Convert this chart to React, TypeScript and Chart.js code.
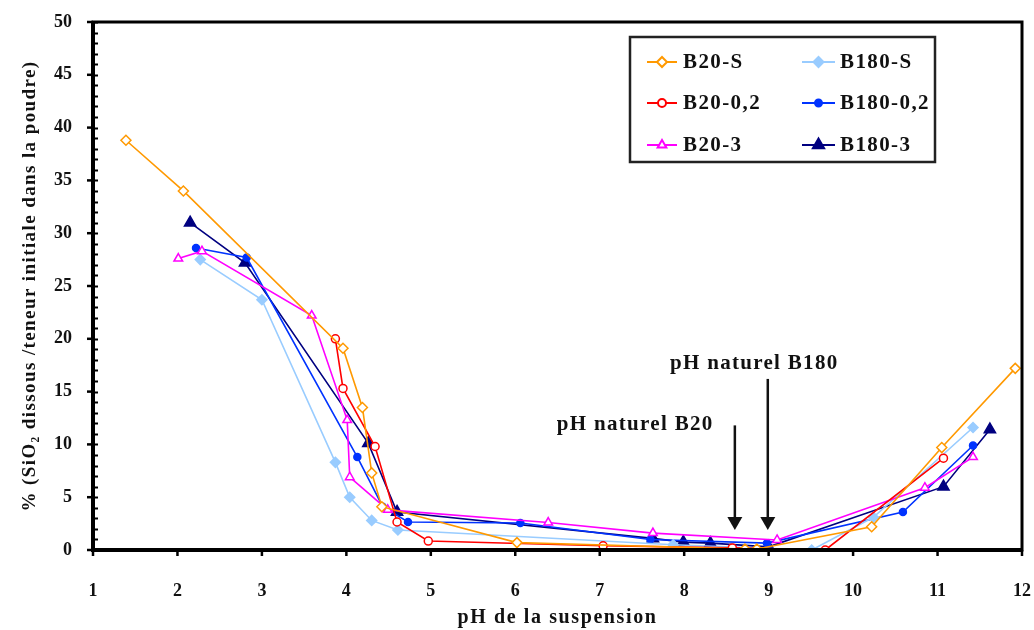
import React, { useEffect, useRef } from 'react';
import { Chart, registerables } from 'chart.js';
import { drawPoint } from 'chart.js/helpers';

Chart.register(...registerables);

// ---------- data ----------
const SERIES_NAMES = ['B20-S', 'B20-0,2', 'B20-3', 'B180-S', 'B180-0,2', 'B180-3'];

const b20S_pH = [1.39, 2.07, 3.96, 4.19, 4.30, 4.42, 6.02, 8.72, 8.86, 10.22, 11.05, 11.92];
const b20S_val = [38.8, 34.0, 19.1, 13.5, 7.3, 4.1, 0.7, 0.1, 0.1, 2.2, 9.7, 17.2];

const b20_02_pH = [3.87, 3.96, 4.34, 4.60, 4.97, 7.04, 8.57, 9.67, 11.07];
const b20_02_val = [20.0, 15.3, 9.8, 2.65, 0.85, 0.4, 0.2, 0.0, 8.7];

const b20_3_pH = [2.01, 2.29, 3.59, 4.01, 4.04, 4.49, 6.39, 7.63, 9.10, 10.85, 11.42];
const b20_3_val = [27.6, 28.3, 22.2, 12.3, 6.9, 3.8, 2.6, 1.6, 0.95, 5.9, 8.8];

const b180S_pH = [2.27, 3.0, 3.87, 4.04, 4.30, 4.61, 7.87, 9.51, 10.24, 11.42];
const b180S_val = [27.5, 23.7, 8.3, 5.0, 2.8, 1.9, 0.5, 0.0, 3.1, 11.6];

const b180_02_pH = [2.22, 2.82, 4.13, 4.43, 4.73, 6.06, 7.60, 8.98, 10.59, 11.42];
const b180_02_val = [28.6, 27.7, 8.8, 4.1, 2.65, 2.55, 1.0, 0.65, 3.6, 9.9];

const b180_3_pH = [2.15, 2.80, 4.26, 4.60, 7.63, 7.99, 8.31, 9.0, 11.07, 11.62];
const b180_3_val = [31.0, 27.2, 10.1, 3.6, 1.1, 0.75, 0.65, 0.3, 6.0, 11.4];

const X_MIN = 1, X_MAX = 12, X_STEP = 1;
const Y_MIN = 0, Y_MAX = 50, Y_STEP = 5, Y_MINOR = 1;

const ARROW_B20 = { pH: 8.6, from: 11.8, to: 1.9 };
const ARROW_B180 = { pH: 8.99, from: 16.2, to: 1.9 };
const LABEL_B20 = { text: 'pH naturel B20', pH: 7.42, y: 11.84 };
const LABEL_B180 = { text: 'pH naturel B180', pH: 8.83, y: 17.7 };

const X_TITLE = 'pH de la suspension';
const Y_TITLE = '% (SiO₂ dissous /teneur initiale dans la poudre)';

// ---------- styles ----------
const FONT = "'Liberation Serif', 'Times New Roman', serif";
const STYLES = [
  { color: '#FF9900', point: 'rectRot', radius: 5, fill: '#FFFFFF' },
  { color: '#FF0000', point: 'circle', radius: 4, fill: '#FFFFFF' },
  { color: '#FF00FF', point: 'triangle', radius: 5, fill: '#FFFFFF' },
  { color: '#99CCFF', point: 'rectRot', radius: 5, fill: '#99CCFF' },
  { color: '#0033FF', point: 'circle', radius: 3.5, fill: '#0033FF' },
  { color: '#000080', point: 'triangle', radius: 6.5, fill: '#000080' },
];

const SERIES = [
  [b20S_pH, b20S_val],
  [b20_02_pH, b20_02_val],
  [b20_3_pH, b20_3_val],
  [b180S_pH, b180S_val],
  [b180_02_pH, b180_02_val],
  [b180_3_pH, b180_3_val],
];

const framePlugin = {
  id: 'frame',
  afterDatasetsDraw(chart: any) {
    const { ctx, chartArea, scales } = chart;
    const { left, right, top, bottom } = chartArea;
    const xs = scales.x, ys = scales.y;
    ctx.save();
    ctx.strokeStyle = '#000';
    // minor inside ticks on y
    ctx.lineWidth = 2;
    for (let v = Y_MIN; v <= Y_MAX; v += Y_MINOR) {
      const py = Math.round(ys.getPixelForValue(v)) + 0.5;
      ctx.beginPath();
      ctx.moveTo(left, py);
      ctx.lineTo(left + 5, py);
      ctx.stroke();
    }
    // major outside ticks on y
    ctx.lineWidth = 2.5;
    for (let v = Y_MIN; v <= Y_MAX; v += Y_STEP) {
      const py = ys.getPixelForValue(v);
      ctx.beginPath();
      ctx.moveTo(left - 6, py);
      ctx.lineTo(left, py);
      ctx.stroke();
    }
    // major outside ticks on x
    for (let v = X_MIN; v <= X_MAX; v += X_STEP) {
      const px = xs.getPixelForValue(v);
      ctx.beginPath();
      ctx.moveTo(px, bottom);
      ctx.lineTo(px, bottom + 6);
      ctx.stroke();
    }
    // frame
    ctx.lineWidth = 3;
    ctx.strokeRect(left, top, right - left, bottom - top);
    ctx.lineWidth = 4;
    ctx.beginPath();
    ctx.moveTo(left, top);
    ctx.lineTo(left, bottom);
    ctx.lineTo(right, bottom);
    ctx.stroke();

    // arrows
    const drawArrow = (a: any) => {
      const px = xs.getPixelForValue(a.pH);
      const y0 = ys.getPixelForValue(a.from);
      const y1 = ys.getPixelForValue(a.to);
      ctx.strokeStyle = '#111';
      ctx.fillStyle = '#111';
      ctx.lineWidth = 2.5;
      ctx.beginPath();
      ctx.moveTo(px, y0);
      ctx.lineTo(px, y1 - 10);
      ctx.stroke();
      ctx.beginPath();
      ctx.moveTo(px - 7.5, y1 - 13);
      ctx.lineTo(px + 7.5, y1 - 13);
      ctx.lineTo(px, y1);
      ctx.closePath();
      ctx.fill();
    };
    drawArrow(ARROW_B20);
    drawArrow(ARROW_B180);

    ctx.fillStyle = '#111';
    ctx.font = `bold 21px ${FONT}`;
    (ctx as any).letterSpacing = '1.3px';
    ctx.textAlign = 'center';
    ctx.textBaseline = 'middle';
    for (const l of [LABEL_B20, LABEL_B180]) {
      ctx.fillText(l.text, xs.getPixelForValue(l.pH), ys.getPixelForValue(l.y));
    }
    ctx.restore();
  },
  afterDraw(chart: any) {
    const { ctx, chartArea } = chart;
    ctx.save();
    // axis titles
    ctx.fillStyle = '#111';
    ctx.textAlign = 'center';
    ctx.textBaseline = 'middle';
    ctx.font = `bold 20px ${FONT}`;
    (ctx as any).letterSpacing = '1.6px';
    ctx.fillText(X_TITLE, (chartArea.left + chartArea.right) / 2, 618);
    ctx.save();
    ctx.translate(30, (chartArea.top + chartArea.bottom) / 2);
    ctx.rotate(-Math.PI / 2);
    ctx.font = `bold 19px ${FONT}`;
    (ctx as any).letterSpacing = '1.4px';
    ctx.fillText(Y_TITLE, 0, 0);
    ctx.restore();

    // legend box
    const bx = 630, by = 37, bw = 305, bh = 125;
    ctx.fillStyle = '#fff';
    ctx.fillRect(bx, by, bw, bh);
    ctx.strokeStyle = '#222';
    ctx.lineWidth = 2.5;
    ctx.strokeRect(bx, by, bw, bh);
    const rows = [62, 103, 145];
    const cols = [{ l0: 647, l1: 677, t: 683 }, { l0: 802, l1: 835, t: 840 }];
    ctx.font = `bold 21px ${FONT}`;
    (ctx as any).letterSpacing = '1.4px';
    ctx.textBaseline = 'middle';
    ctx.textAlign = 'left';
    SERIES_NAMES.forEach((name, i) => {
      const c = cols[Math.floor(i / 3)];
      const ry = rows[i % 3];
      const st = STYLES[i];
      ctx.strokeStyle = st.color;
      ctx.lineWidth = 2;
      ctx.beginPath();
      ctx.moveTo(c.l0, ry);
      ctx.lineTo(c.l1, ry);
      ctx.stroke();
      ctx.fillStyle = st.fill;
      drawPoint(ctx, { pointStyle: st.point, radius: st.radius, rotation: 0, borderWidth: 1.5 } as any, (c.l0 + c.l1) / 2, ry);
      ctx.fillStyle = '#111';
      ctx.fillText(name, c.t, ry + 1);
    });
    ctx.restore();
  },
};

export default function App() {
  const ref = useRef<HTMLCanvasElement | null>(null);
  useEffect(() => {
    if (!ref.current) return;
    const datasets = SERIES.map(([xsArr, ysArr], i) => ({
      label: SERIES_NAMES[i],
      data: xsArr.map((x, k) => ({ x, y: ysArr[k] })),
      showLine: true,
      borderColor: STYLES[i].color,
      backgroundColor: STYLES[i].fill,
      borderWidth: 1.6,
      pointStyle: STYLES[i].point as any,
      pointRadius: STYLES[i].radius,
      pointBorderWidth: 1.5,
      pointBorderColor: STYLES[i].color,
      pointBackgroundColor: STYLES[i].fill,
      tension: 0,
    }));
    const chart = new Chart(ref.current, {
      type: 'scatter',
      data: { datasets },
      plugins: [framePlugin],
      options: {
        animation: false,
        responsive: false,
        maintainAspectRatio: false,
        layout: { padding: { top: 22, right: 12, left: 0, bottom: 0 } },
        plugins: { legend: { display: false }, tooltip: { enabled: false } },
        scales: {
          x: {
            type: 'linear',
            min: X_MIN,
            max: X_MAX,
            afterFit: (s: any) => { s.height = 80; s.paddingLeft = 0; s.paddingRight = 0; },
            grid: { display: false, drawTicks: false },
            border: { display: false },
            ticks: {
              stepSize: X_STEP,
              padding: 31,
              color: '#111',
              font: { family: FONT, size: 18, weight: 'bold' },
              maxRotation: 0,
            },
            title: { display: false },
          },
          y: {
            type: 'linear',
            min: Y_MIN,
            max: Y_MAX,
            afterFit: (s: any) => { s.width = 93; s.paddingTop = 0; s.paddingBottom = 0; },
            grid: { display: false, drawTicks: false },
            border: { display: false },
            ticks: {
              stepSize: Y_STEP,
              padding: 21,
              color: '#111',
              font: { family: FONT, size: 18, weight: 'bold' },
            },
            title: { display: false },
          },
        },
      },
    });
    return () => chart.destroy();
  }, []);
  return (
    <div style={{ position: 'fixed', left: 0, top: 0, width: 1034, height: 630, background: '#fff' }}>
      <canvas ref={ref} width={1034} height={630} style={{ width: 1034, height: 630, display: 'block' }} />
    </div>
  );
}
